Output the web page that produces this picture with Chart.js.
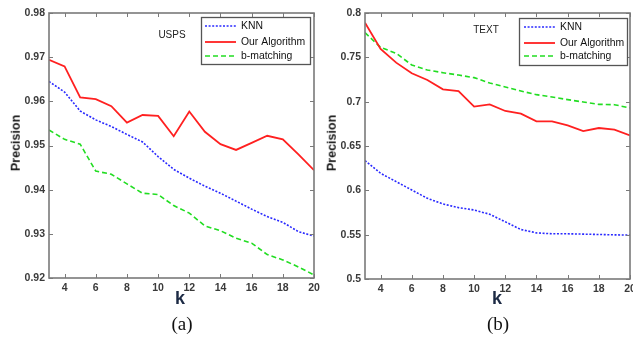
<!DOCTYPE html>
<html><head><meta charset="utf-8">
<script src="https://cdn.jsdelivr.net/npm/chart.js@4.4.1/dist/chart.umd.min.js"></script>
<style>
html,body{margin:0;padding:0;background:#fff;width:633px;height:337px;overflow:hidden;position:relative;font-family:'Liberation Sans',Arial,sans-serif;}
canvas{position:absolute;top:0;}
#c1{left:0}
#c2{left:316px}
.lab{position:absolute;white-space:nowrap;color:#1a1a1a;transform:translate(-50%,-50%);line-height:1;}
.kx{font-weight:bold;font-size:18px;color:#1c2a44;}
.cap{font-family:'Liberation Serif','DejaVu Serif',serif;font-size:19px;color:#111;}
.yt{font-weight:bold;font-size:12.5px;transform:translate(-50%,-50%) rotate(-90deg);}
.ttl{font-size:10px;color:#222;}
</style></head><body>
<canvas id="c1" width="340" height="337"></canvas>
<canvas id="c2" width="340" height="337"></canvas>
<div class="lab ttl" style="left:172px;top:35px">USPS</div>
<div class="lab ttl" style="left:486px;top:30px">TEXT</div>
<div class="lab yt" style="left:16px;top:143px">Precision</div>
<div class="lab yt" style="left:332px;top:143px">Precision</div>
<div class="lab kx" style="left:180px;top:298px">k</div>
<div class="lab kx" style="left:497px;top:298px">k</div>
<div class="lab cap" style="left:182px;top:323px">(a)</div>
<div class="lab cap" style="left:498px;top:323px">(b)</div>
<script>
// ---- data ----
const kValues = [3,4,5,6,7,8,9,10,11,12,13,14,15,16,17,18,19,20];
const seriesNames = ['KNN','Our Algorithm','b-matching'];

const uspsKnn  = [0.9645,0.9621,0.9578,0.9558,0.9543,0.9525,0.9508,0.9475,0.9446,0.9426,0.9408,0.9392,0.9374,0.9356,0.9339,0.9326,0.9305,0.9295];
const uspsOurs = [0.9694,0.9679,0.9609,0.9605,0.9589,0.9552,0.9569,0.9567,0.9521,0.9577,0.9531,0.9503,0.9490,0.9506,0.9522,0.9514,0.9480,0.9444];
const uspsBm   = [0.9535,0.9514,0.9503,0.9442,0.9435,0.9413,0.9392,0.9389,0.9364,0.9347,0.9318,0.9307,0.9290,0.9279,0.9253,0.9241,0.9225,0.9207];

const textKnn  = [0.6335,0.6192,0.6098,0.6004,0.5910,0.5846,0.5805,0.5778,0.5730,0.5645,0.5558,0.5520,0.5510,0.5510,0.5506,0.5502,0.5498,0.5495];
const textOurs = [0.7890,0.7594,0.7440,0.7320,0.7244,0.7139,0.7120,0.6944,0.6970,0.6895,0.6865,0.6778,0.6778,0.6733,0.6669,0.6703,0.6684,0.6620];
const textBm   = [0.7778,0.7613,0.7545,0.7414,0.7357,0.7327,0.7300,0.7271,0.7210,0.7165,0.7120,0.7079,0.7053,0.7023,0.6996,0.6970,0.6966,0.6929];

const xTicks = [4,6,8,10,12,14,16,18,20];
const uspsYTicks = [0.92,0.93,0.94,0.95,0.96,0.97,0.98];
const textYTicks = [0.5,0.55,0.6,0.65,0.7,0.75,0.8];

// ---- styling ----
const styles = [
  {color:'#2a2aff', width:1.6, dash:[2,1.6]},
  {color:'#ff2020', width:1.8, dash:[]},
  {color:'#22dd22', width:1.6, dash:[5,3]}
];
const tickFont = {family:"'Liberation Sans', Arial, sans-serif", size:10.5, weight:'bold'};

const framePlugin = {
  id:'frame',
  afterDatasetsDraw(chart, args, o){
    const {ctx, chartArea:a} = chart;
    const xs = chart.scales.x, ys = chart.scales.y;
    ctx.save();
    ctx.strokeStyle = '#7a7a7a';
    ctx.lineWidth = 1;
    ctx.beginPath();
    xs.ticks.forEach(t=>{
      const px = Math.round(xs.getPixelForValue(t.value))+0.5;
      ctx.moveTo(px,a.bottom); ctx.lineTo(px,a.bottom-4);
      ctx.moveTo(px,a.top); ctx.lineTo(px,a.top+4);
    });
    ys.ticks.forEach(t=>{
      const py = Math.round(ys.getPixelForValue(t.value))+0.5;
      ctx.moveTo(a.left,py); ctx.lineTo(a.left+4,py);
      ctx.moveTo(a.right,py); ctx.lineTo(a.right-4,py);
    });
    ctx.stroke();
    ctx.lineWidth = 1.6;
    ctx.strokeRect(a.left, a.top, a.width, a.height);
    // legend box
    const bx = Math.round(a.right - o.gap - o.w), by = Math.round(a.top + o.top);
    ctx.fillStyle = '#fff';
    ctx.fillRect(bx, by, o.w, o.h);
    ctx.strokeStyle = '#555';
    ctx.lineWidth = 1.3;
    ctx.strokeRect(bx+0.5, by+0.5, o.w, o.h);
    ctx.font = "10.4px 'Liberation Sans', Arial, sans-serif";
    ctx.textBaseline = 'middle';
    ctx.textAlign = 'left';
    chart.data.datasets.forEach((ds,i)=>{
      const ry = by + o.rows[i];
      ctx.beginPath();
      ctx.strokeStyle = ds.borderColor;
      ctx.lineWidth = ds.borderWidth;
      ctx.setLineDash(ds.borderDash || []);
      ctx.moveTo(bx+o.s0, ry); ctx.lineTo(bx+o.s1, ry);
      ctx.stroke();
      ctx.setLineDash([]);
      ctx.fillStyle = '#111';
      ctx.fillText(ds.label, bx+o.tx, ry+0.5);
    });
    ctx.restore();
  }
};

function makeChart(id, series, yTicks, yMin, yMax, xH, legendOpts){
  const datasets = series.map((vals,i)=>({
    label: seriesNames[i],
    data: kValues.map((k,j)=>({x:k, y:vals[j]})),
    borderColor: styles[i].color,
    borderWidth: styles[i].width,
    borderDash: styles[i].dash,
    pointRadius: 0,
    tension: 0,
    fill: false
  }));
  return new Chart(document.getElementById(id), {
    type:'line',
    data:{datasets},
    plugins:[framePlugin],
    options:{
      responsive:false, animation:false, devicePixelRatio:1,
      layout:{padding:{top:13, right:26, left:0, bottom:0}},
      plugins:{legend:{display:false}, tooltip:{enabled:false}, frame:legendOpts},
      scales:{
        x:{type:'linear', min:3, max:20,
           grid:{display:false, drawTicks:false}, border:{display:false},
           afterBuildTicks:s=>{s.ticks = xTicks.map(v=>({value:v}));},
           afterFit:s=>{s.height = xH;},
           ticks:{font:tickFont, color:'#3a3a3a', padding:4, maxRotation:0, autoSkip:false, callback:v=>String(v)}},
        y:{type:'linear', min:yMin, max:yMax,
           grid:{display:false, drawTicks:false}, border:{display:false},
           afterBuildTicks:s=>{s.ticks = yTicks.map(v=>({value:v}));},
           afterFit:s=>{s.width = 49;},
           ticks:{font:tickFont, color:'#3a3a3a', padding:4, autoSkip:false, callback:v=>String(v)}}
      }
    }
  });
}

makeChart('c1', [uspsKnn, uspsOurs, uspsBm], uspsYTicks, 0.92, 0.98, 59,
  {w:109, h:47, gap:4, top:4, rows:[9,25,39], s0:4, s1:35, tx:40});
makeChart('c2', [textKnn, textOurs, textBm], textYTicks, 0.5, 0.8, 58,
  {w:108, h:47, gap:3, top:5, rows:[9,25,38], s0:5, s1:36, tx:41});
</script>
</body></html>
